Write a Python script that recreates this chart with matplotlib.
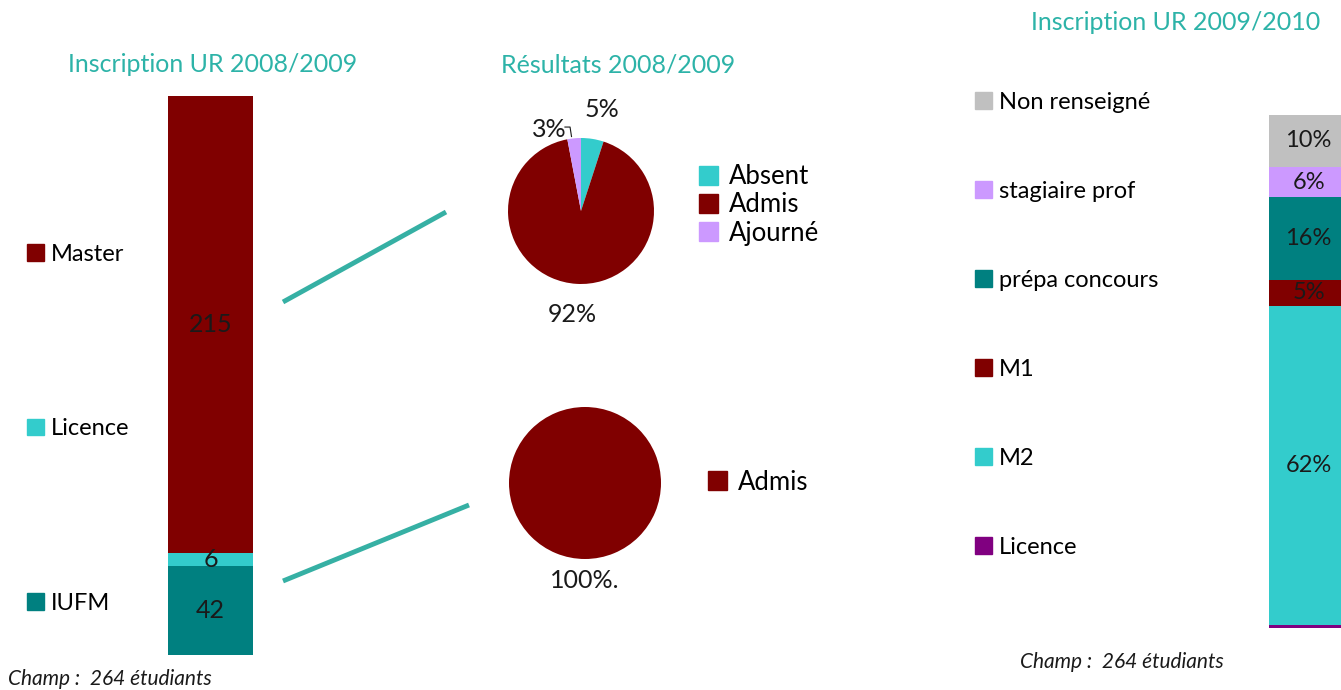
import matplotlib.pyplot as plt
from matplotlib.patches import Patch
from matplotlib.lines import Line2D

plt.rcParams['font.family'] = ['Lato', 'DejaVu Sans']

# ---- données ----
insc_0809_labels = ['IUFM', 'Licence', 'Master']
insc_0809_values = [42, 6, 215]

res_master_labels = ['Absent', 'Admis', 'Ajourné']
res_master_pct = [5, 92, 3]

res_iufm_labels = ['Admis']
res_iufm_pct = [100]

insc_0910_labels = ['Licence', 'M2', 'M1', 'prépa concours', 'stagiaire prof', 'Non renseigné']
insc_0910_pct = [0.5, 62, 5, 16, 6, 10]
insc_0910_text = ['', '62%', '5%', '16%', '6%', '10%']

champ_txt = 'Champ :  264 étudiants'

# ---- couleurs ----
c_teal = '#008080'
c_cyan = '#33CCCC'
c_red = '#800000'
c_lav = '#CC99FF'
c_grey = '#C0C0C0'
c_purple = '#800080'
c_title = '#2DB3A8'
c_line = '#36B0A4'

col_0809 = {'IUFM': c_teal, 'Licence': c_cyan, 'Master': c_red}
col_res = {'Absent': c_cyan, 'Admis': c_red, 'Ajourné': c_lav}
col_0910 = {'Licence': c_purple, 'M2': c_cyan, 'M1': c_red, 'prépa concours': c_teal,
            'stagiaire prof': c_lav, 'Non renseigné': c_grey}

W, H = 1341, 690
fig = plt.figure(figsize=(W / 100, H / 100), dpi=100)


def px_axes(x, y, w, h):
    # axes placées en pixels (origine en haut à gauche)
    return fig.add_axes([x / W, 1 - (y + h) / H, w / W, h / H])


def px(x, y):
    return x / W, 1 - y / H


txt_kw = dict(color='#1a1a1a')

# ---- barre inscription 2008/2009 ----
ax1 = px_axes(168, 96, 85, 559)
bottom = 0
for lab, v in zip(insc_0809_labels, insc_0809_values):
    ax1.bar(0, v, width=1, bottom=bottom, color=col_0809[lab], linewidth=0)
    ax1.text(0, bottom + v / 2, str(v), ha='center', va='center', fontsize=18, **txt_kw)
    bottom += v
ax1.set_xlim(-0.5, 0.5)
ax1.set_ylim(0, bottom)
ax1.axis('off')
fig.text(*px(213, 65), 'Inscription UR 2008/2009', ha='center', va='center',
         fontsize=18, color=c_title)

h1 = [Patch(color=col_0809[l]) for l in insc_0809_labels[::-1]]
fig.legend(h1, insc_0809_labels[::-1], loc='center left',
           bbox_to_anchor=px(6, 429), frameon=False, fontsize=17,
           handlelength=0.7, handleheight=0.7, handletextpad=0.3, labelspacing=6.5)

# ---- camembert résultats Master ----
ax2 = px_axes(508, 138, 146, 146)
wedges, _ = ax2.pie(res_master_pct, colors=[col_res[l] for l in res_master_labels],
                    startangle=90, counterclock=False, radius=1,
                    wedgeprops=dict(linewidth=0))
ax2.set_xlim(-1, 1)
ax2.set_ylim(-1, 1)
ax2.set_aspect('equal')
ax2.text(0.29, 1.39, f'{res_master_pct[0]}%', ha='center', va='center', fontsize=18, **txt_kw)
ax2.text(-0.12, -1.42, f'{res_master_pct[1]}%', ha='center', va='center', fontsize=18, **txt_kw)
ax2.text(-0.44, 1.11, f'{res_master_pct[2]}%', ha='center', va='center', fontsize=18, **txt_kw)
ax2.plot([-0.22, -0.15, -0.13], [1.15, 1.15, 1.02], color='#1a1a1a', lw=0.8, clip_on=False)
fig.text(*px(618, 65), 'Résultats 2008/2009', ha='center', va='center',
         fontsize=18, color=c_title)
h2 = [Patch(color=col_res[l]) for l in res_master_labels]
fig.legend(h2, res_master_labels, loc='center left',
           bbox_to_anchor=px(676, 205), frameon=False, fontsize=18.5,
           handlelength=0.75, handleheight=0.75, handletextpad=0.4, labelspacing=0.12)

# ---- camembert résultats IUFM ----
ax3 = px_axes(509, 407, 152, 152)
ax3.pie(res_iufm_pct, colors=[col_res[l] for l in res_iufm_labels], startangle=90,
        radius=1, wedgeprops=dict(linewidth=0))
ax3.set_xlim(-1, 1)
ax3.set_ylim(-1, 1)
ax3.set_aspect('equal')
ax3.text(0, -1.28, f'{res_iufm_pct[0]}%.', ha='center', va='center', fontsize=18, **txt_kw)
h3 = [Patch(color=col_res[l]) for l in res_iufm_labels]
fig.legend(h3, res_iufm_labels, loc='center left',
           bbox_to_anchor=px(685, 482), frameon=False, fontsize=18.5,
           handlelength=0.75, handleheight=0.75, handletextpad=0.4)

# ---- traits de liaison ----
for (xa, ya), (xb, yb) in [((283, 302), (446, 212)), ((283, 581), (469, 505))]:
    fig.add_artist(Line2D([xa / W, xb / W], [1 - ya / H, 1 - yb / H],
                          color=c_line, lw=3.5, solid_capstyle='butt'))

# ---- barre inscription 2009/2010 ----
ax4 = px_axes(1269, 115, 72, 513)
bottom = 0
for lab, v, t in zip(insc_0910_labels, insc_0910_pct, insc_0910_text):
    ax4.bar(0, v, width=1, bottom=bottom, color=col_0910[lab], linewidth=0)
    if t:
        ax4.text(0.05, bottom + v / 2, t, ha='center', va='center', fontsize=17, **txt_kw)
    bottom += v
ax4.set_xlim(-0.5, 0.5)
ax4.set_ylim(0, bottom)
ax4.axis('off')
fig.text(*px(1176, 22), 'Inscription UR 2009/2010', ha='center', va='center',
         fontsize=18, color=c_title)
h4 = [Patch(color=col_0910[l]) for l in insc_0910_labels[::-1]]
fig.legend(h4, insc_0910_labels[::-1], loc='center left',
           bbox_to_anchor=px(954, 325), frameon=False, fontsize=17,
           handlelength=0.7, handleheight=0.7, handletextpad=0.3, labelspacing=2.88)

# ---- champ ----
fig.text(*px(8, 679), champ_txt, ha='left', va='center', fontsize=15,
         style='italic', **txt_kw)
fig.text(*px(1020, 662), champ_txt, ha='left', va='center', fontsize=15,
         style='italic', **txt_kw)

fig.savefig('out.png', dpi=100)
